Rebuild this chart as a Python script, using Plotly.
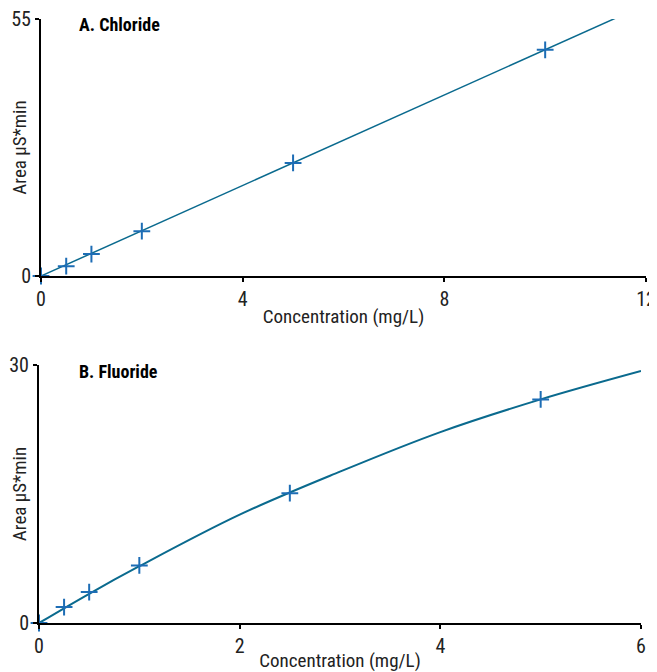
import plotly.graph_objects as go

# Panel A: Chloride
cl_conc = [0, 0.5, 1, 2, 5, 10]
cl_area = [0, 2.1, 4.7, 9.6, 24.2, 48.4]
cl_fit_x = [0, 11.4]
cl_fit_y = [0, 55.2]

# Panel B: Fluoride
f_conc = [0, 0.25, 0.5, 1, 2.5, 5]
f_area = [0, 1.85, 3.6, 6.7, 15.1, 26.0]
f_fit_x = [0, 0.5, 1, 2, 3, 4, 5, 6]
f_fit_y = [0, 3.4, 6.6, 12.6, 17.6, 22.2, 26.0, 29.3]

x_ticks_a = [0, 4, 8, 12]
x_ticks_b = [0, 2, 4, 6]
y_ticks_a = [0, 55]
y_ticks_b = [0, 30]

FONT = "Roboto Condensed, Archivo Narrow, sans-serif"
LINE_C = "#0a6a8e"
MARK_C = "#1d6db5"

fig = go.Figure()
fig.add_trace(go.Scatter(x=cl_fit_x, y=cl_fit_y, mode="lines",
                         line=dict(color=LINE_C, width=1.5), xaxis="x", yaxis="y",
                         showlegend=False, cliponaxis=False))
fig.add_trace(go.Scatter(x=cl_conc, y=cl_area, mode="markers",
                         marker=dict(symbol="cross-thin", size=12,
                                     line=dict(color=MARK_C, width=2)),
                         xaxis="x", yaxis="y", showlegend=False, cliponaxis=False))
fig.add_trace(go.Scatter(x=f_fit_x, y=f_fit_y, mode="lines",
                         line=dict(color=LINE_C, width=2, shape="spline"),
                         xaxis="x2", yaxis="y2", showlegend=False, cliponaxis=False))
fig.add_trace(go.Scatter(x=f_conc, y=f_area, mode="markers",
                         marker=dict(symbol="cross-thin", size=12,
                                     line=dict(color=MARK_C, width=2)),
                         xaxis="x2", yaxis="y2", showlegend=False, cliponaxis=False))

# page body adds an 8px offset; figure pixel = target pixel - OFF
OFF = 8
W, H = 657 - OFF, 672 - OFF


def px_x(a, b):
    return [(a - OFF) / W, (b - OFF) / W]


def px_y(top, bottom):
    return [(H - (bottom - OFF)) / H, (H - (top - OFF)) / H]


axis_common = dict(showline=True, linecolor="black", linewidth=2, showgrid=False,
                   zeroline=False, ticks="outside", ticklen=4, tickwidth=1.5,
                   tickcolor="black", automargin=False, ticklabeloverflow="allow",
                   tickfont=dict(family=FONT, size=20, color="#222"),
                   title_font=dict(family=FONT, size=19, color="#222"))

fig.update_layout(
    width=W, height=H, margin=dict(l=0, r=0, t=0, b=0),
    paper_bgcolor="white", plot_bgcolor="white",
    font=dict(family=FONT, color="#222"),
    xaxis=dict(domain=px_x(41, 646), range=[0, 12], tickvals=x_ticks_a,
               anchor="y", title=dict(text="Concentration (mg/L)", standoff=0), **axis_common),
    yaxis=dict(domain=px_y(19, 276), range=[0, 55], tickvals=y_ticks_a,
               anchor="x", title=dict(text="Area µS*min", standoff=4), **axis_common),
    xaxis2=dict(domain=px_x(39, 641), range=[0, 6], tickvals=x_ticks_b,
                anchor="y2", title=dict(text="Concentration (mg/L)", standoff=0), **axis_common),
    yaxis2=dict(domain=px_y(365, 623), range=[0, 30], tickvals=y_ticks_b,
                anchor="x2", title=dict(text="Area µS*min", standoff=4), **axis_common),
    annotations=[
        dict(text="<b>A. Chloride</b>", x=(77 - OFF) / W, y=(H - (25 - OFF)) / H,
             xref="paper", yref="paper", xanchor="left", yanchor="middle", showarrow=False,
             font=dict(family=FONT, size=18, color="black")),
        dict(text="<b>B. Fluoride</b>", x=(77 - OFF) / W, y=(H - (371 - OFF)) / H,
             xref="paper", yref="paper", xanchor="left", yanchor="middle", showarrow=False,
             font=dict(family=FONT, size=18, color="black")),
    ],
)

fig.write_html("out.html")
